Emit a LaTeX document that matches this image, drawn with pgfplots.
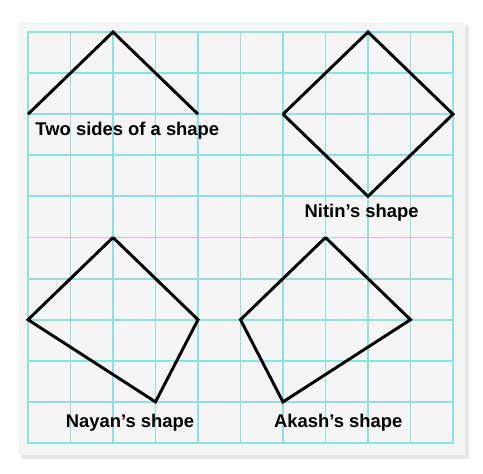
\documentclass[border=0pt]{standalone}
\usepackage{pgfplots}
\pgfplotsset{compat=1.18}
\usepackage{fontspec}
\setmainfont{Liberation Sans}
\definecolor{gridc}{RGB}{140,225,225}
\definecolor{panel}{RGB}{245,245,246}
\definecolor{shadow}{RGB}{232,232,234}
\begin{document}
\begin{tikzpicture}[x=1pt,y=1pt]
\path[fill=white] (0,0) rectangle (362.25,355.5);
\fill[shadow] (16,11.5) rectangle (351.5,336.5);
\fill[panel] (13.5,14.25) rectangle (348.75,339);
\begin{axis}[at={(21pt,23.25pt)},anchor=origin,scale only axis,
  width=318.75pt,height=308.25pt,xmin=0,xmax=10,ymin=0,ymax=10,
  xtick={0,...,10},ytick={0,...,10},xticklabels={},yticklabels={},
  major tick length=0pt,grid=major,
  major grid style={gridc,line width=1.4pt},
  axis line style={gridc,line width=1.4pt},
  clip=false]
\addplot[black,line width=2.2pt,line join=miter] coordinates {(0,8) (2,10) (4,8)};
\addplot[black,line width=2.2pt,line join=miter] coordinates {(6,8) (8,10) (10,8) (8,6) (6,8)};
\addplot[black,line width=2.2pt,line join=miter] coordinates {(2,5) (4,3) (3,1) (0,3) (2,5)};
\addplot[black,line width=2.2pt,line join=miter] coordinates {(7,5) (9,3) (6,1) (5,3) (7,5)};
\node[font=\bfseries\fontsize{13.8}{16}\selectfont,anchor=west,inner sep=0pt] at (axis cs:0.17,7.6) {Two sides of a shape};
\node[font=\bfseries\fontsize{13.8}{16}\selectfont] at (axis cs:7.85,5.6) {Nitin’s shape};
\node[font=\bfseries\fontsize{13.8}{16}\selectfont] at (axis cs:2.4,0.5) {Nayan’s shape};
\node[font=\bfseries\fontsize{13.8}{16}\selectfont] at (axis cs:7.3,0.5) {Akash’s shape};
\end{axis}
\end{tikzpicture}
\end{document}
